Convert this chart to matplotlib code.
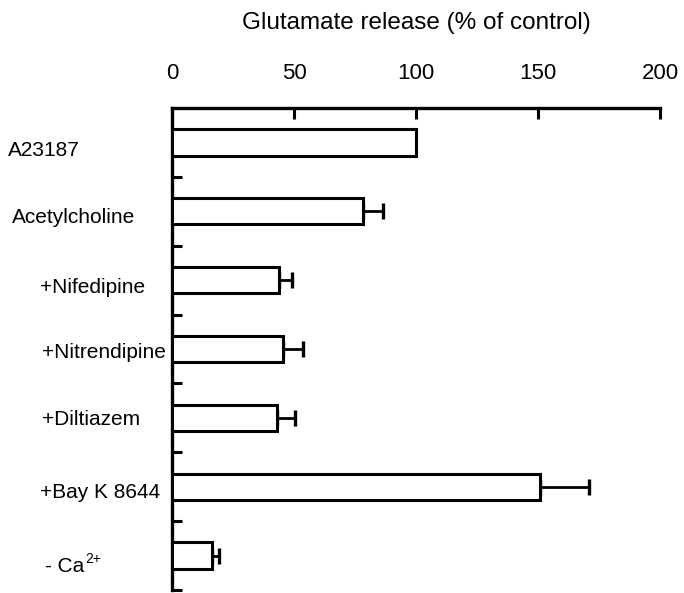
import matplotlib
matplotlib.use("Agg")
import matplotlib.pyplot as plt
import matplotlib.transforms as mtransforms

plt.rcParams['font.family'] = ['Liberation Sans', 'DejaVu Sans']

# data
treatments = ["A23187", "Acetylcholine", "+Nifedipine", "+Nitrendipine",
              "+Diltiazem", "+Bay K 8644", "- Ca"]
release = [100, 78.3, 43.9, 45.5, 43.0, 150.8, 16.4]
errors = [0, 8.2, 5.3, 8.2, 7.4, 20.1, 2.9]
x_ticks = [0, 50, 100, 150, 200]

# label placement in pixels: left edge, and shift down from bar centre
label_px = [8, 12, 40, 42, 42, 40, 45]
label_dy = [6, 4, 5, 2, 0, 4, 9]

W, H = 684, 593
fig = plt.figure(figsize=(W / 100, H / 100), dpi=100)
ax = fig.add_axes([172 / W, 1 - 590 / H, 488 / W, (590 - 108) / H])

pos = list(range(len(treatments)))
ax.barh(pos, release, height=0.38, color="white", edgecolor="black",
        linewidth=2.2, zorder=3)
for y, v, e in zip(pos, release, errors):
    if e > 0:
        ax.errorbar(v, y, xerr=[[0], [e]], fmt="none", ecolor="black",
                    elinewidth=2.0, capsize=6, capthick=2.4, zorder=2)

ax.set_xlim(0, 200)
ax.set_ylim(len(treatments) - 0.5, -0.5)
ax.xaxis.tick_top()
ax.xaxis.set_label_position("top")
ax.set_xticks(x_ticks)
ax.set_xticklabels([str(t) for t in x_ticks], fontsize=16)
ax.tick_params(axis="x", direction="in", length=8, width=2.2, pad=17)
ax.set_xlabel("Glutamate release (% of control)", fontsize=17.5, labelpad=25)

ax.set_yticks([p + 0.5 for p in pos])
ax.set_yticklabels([])
ax.tick_params(axis="y", direction="in", length=7, width=2.2)

for s in ["right", "bottom"]:
    ax.spines[s].set_visible(False)
for s in ["top", "left"]:
    ax.spines[s].set_linewidth(2.4)

trans = mtransforms.blended_transform_factory(fig.transFigure, ax.transData)
cap_half = 15 * 100 / 72 * 0.716 / 2
labels = []
for y, lab, px, dy in zip(pos, treatments, label_px, label_dy):
    t = mtransforms.offset_copy(trans, fig=fig, y=-(dy + cap_half), units="dots")
    labels.append(fig.text(px / W, y, lab, transform=t, ha="left",
                           va="baseline", fontsize=15))

# superscript charge on the last label
ax.annotate("2+", xy=(1, 1), xycoords=labels[-1], xytext=(0.5, 3.5),
            textcoords="offset points", ha="left", va="top", fontsize=10,
            annotation_clip=False)

fig.savefig("out.png", dpi=100)
